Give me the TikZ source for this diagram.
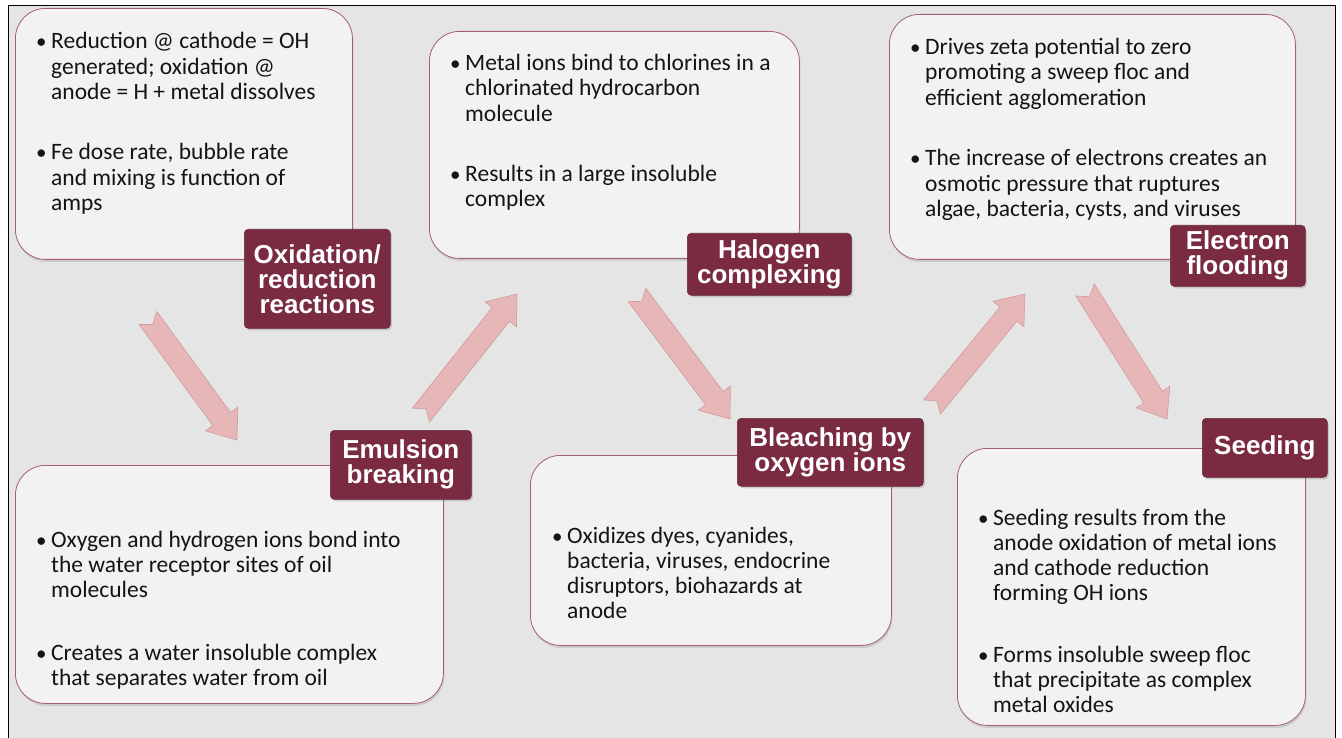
\documentclass[tikz,border=0pt]{standalone}
\usepackage{fontspec}
\setmainfont{Carlito}
\newfontfamily\labfont{Liberation Sans}
\usetikzlibrary{calc,shadows}
\definecolor{bg}{HTML}{E5E5E5}
\definecolor{boxfill}{HTML}{F2F2F2}
\definecolor{boxline}{HTML}{A3606E}
\definecolor{maroon}{HTML}{7A2B41}
\definecolor{arrowfill}{HTML}{E7B6B6}
\definecolor{arrowline}{HTML}{D09C9C}
\tikzset{
 body/.style={draw=boxline, line width=0.8pt, fill=boxfill, rounded corners=30pt, anchor=north west, inner sep=0pt,
   drop shadow={shadow xshift=1pt, shadow yshift=-2.5pt, opacity=0.25}},
 lab/.style={draw=maroon!85!black, line width=0.6pt, fill=maroon, rounded corners=4pt, anchor=north west, inner sep=0pt,
   text=white, font=\labfont\bfseries\fontsize{26}{25}\selectfont, align=center,
   drop shadow={shadow xshift=1.5pt, shadow yshift=-2pt, opacity=0.3}},
 txt/.style={anchor=base west, inner sep=0pt, align=left, font=\fontsize{23.5}{25.3}\selectfont, text=black!92},
 bul/.style={anchor=base west, inner sep=0pt, font=\fontsize{21}{25.3}\selectfont, text=black!92},
 fat/.style={fill=arrowfill, draw=arrowline, line width=0.6pt, line join=miter}
}
\newcommand\fatarrow[2]{%
 \coordinate (hb) at ($(#2)!26pt!(#1)$);
 \coordinate (nt) at ($(#1)!8pt!(#2)$);
 \draw[fat] ($(#1)!11pt!90:(#2)$) -- ($(hb)!11pt!-90:(#1)$) -- ($(hb)!20pt!-90:(#1)$) -- (#2)
   -- ($(hb)!20pt!90:(#1)$) -- ($(hb)!11pt!90:(#1)$) -- ($(#1)!11pt!-90:(#2)$) -- (nt) -- cycle;}
\begin{document}
\begin{tikzpicture}[x=1pt,y=-1pt]
\useasboundingbox (0,0) rectangle (1342,738);
\fill[white] (0,0) rectangle (1342,738);
\fill[bg] (8.5,5.5) rectangle (1335.5,745);
\draw[black, line width=1.3pt] (8.5,745) -- (8.5,5.5) -- (1335.5,5.5) -- (1335.5,745);

% arrows
\coordinate (a1t) at (148,318); \coordinate (a1h) at (237,440);
\coordinate (a2t) at (421,415); \coordinate (a2h) at (517,294);
\coordinate (a3t) at (637,295); \coordinate (a3h) at (730,419);
\coordinate (a4t) at (932,407); \coordinate (a4h) at (1025,294);
\coordinate (a5t) at (1085,290); \coordinate (a5h) at (1167,419);
\fatarrow{a1t}{a1h}
\fatarrow{a2t}{a2h}
\fatarrow{a3t}{a3h}
\fatarrow{a4t}{a4h}
\fatarrow{a5t}{a5h}

% body boxes
\node[body, minimum width=337pt, minimum height=251pt] (box1) at (15,8) {};
\node[body, minimum width=428pt, minimum height=238pt] (box2) at (15,465) {};
\node[body, minimum width=370pt, minimum height=227pt] (box3) at (429,31) {};
\node[body, minimum width=361pt, minimum height=190pt] (box4) at (530,455) {};
\node[body, minimum width=406pt, minimum height=245pt] (box5) at (889,14) {};
\node[body, minimum width=348pt, minimum height=277pt] (box6) at (957,448) {};

% box texts (text nodes anchored at the baseline of their last line)
\node[bul] (b1a) at (36,49) {•};
\node[txt] (t1a) at (51,99.6) {Reduction @ cathode = OH\\generated; oxidation @\\anode = H + metal dissolves};
\node[bul] (b1b) at (36,160) {•};
\node[txt] (t1b) at (51,210.6) {Fe dose rate, bubble rate\\and mixing is function of\\amps};

\node[bul] (b2a) at (36,547) {•};
\node[txt] (t2a) at (51,597.6) {Oxygen and hydrogen ions bond into\\the water receptor sites of oil\\molecules};
\node[bul] (b2b) at (36,660) {•};
\node[txt] (t2b) at (51,685.3) {Creates a water insoluble complex\\that separates water from oil};

\node[bul] (b3a) at (450,70.7) {•};
\node[txt] (t3a) at (465,121.3) {Metal ions bind to chlorines in a\\chlorinated hydrocarbon\\molecule};
\node[bul] (b3b) at (450,181.7) {•};
\node[txt] (t3b) at (465,207) {Results in a large insoluble\\complex};

\node[bul] (b4a) at (552,543) {•};
\node[txt] (t4a) at (567,618.9) {Oxidizes dyes, cyanides,\\bacteria, viruses, endocrine\\disruptors, biohazards at\\anode};

\node[bul] (b5a) at (910,54.7) {•};
\node[txt] (t5a) at (925,105.3) {Drives zeta potential to zero\\promoting a sweep floc and\\efficient agglomeration};
\node[bul] (b5b) at (910,165.7) {•};
\node[txt] (t5b) at (925,216.3) {The increase of electrons creates an\\osmotic pressure that ruptures\\algae, bacteria, cysts, and viruses};

\node[bul] (b6a) at (978,525) {•};
\node[txt] (t6a) at (993,600.9) {Seeding results from the\\anode oxidation of metal ions\\and cathode reduction\\forming OH ions};
\node[bul] (b6b) at (978,662) {•};
\node[txt] (t6b) at (993,712.6) {Forms insoluble sweep floc\\that precipitate as complex\\metal oxides};

% labels
\node[lab, minimum width=146pt, minimum height=99pt] (l1) at (244,229) {Oxidation/\\reduction\\reactions};
\node[lab, minimum width=141pt, minimum height=69pt] (l2) at (330,430) {Emulsion\\breaking};
\node[lab, minimum width=164pt, minimum height=62pt] (l3) at (687,233) {Halogen\\complexing};
\node[lab, minimum width=186pt, minimum height=68pt] (l4) at (737,418) {Bleaching by\\oxygen ions};
\node[lab, minimum width=135pt, minimum height=61pt] (l5) at (1170,225) {Electron\\flooding};
\node[lab, minimum width=125pt, minimum height=59pt] (l6) at (1202,418) {Seeding};
\end{tikzpicture}
\end{document}
